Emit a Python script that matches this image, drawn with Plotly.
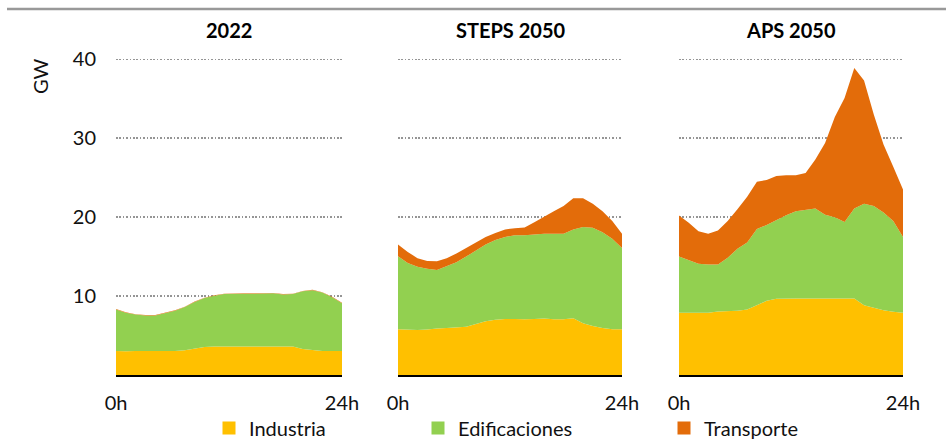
import plotly.graph_objects as go

# ---------------- data ----------------
hours = list(range(24))
x_tick_vals = [0, 23]
x_tick_text = ["0h", "24h"]
y_tick_vals = [10, 20, 30, 40]
y_tick_text = ["10", "20", "30", "40"]

panel_titles = ["2022", "STEPS 2050", "APS 2050"]
series_names = ["Industria", "Edificaciones", "Transporte"]

industria_2022 = [3.05, 3.0, 3.05, 3.05, 3.05, 3.05, 3.05, 3.15, 3.35, 3.55, 3.6, 3.6,
                  3.6, 3.6, 3.6, 3.6, 3.6, 3.6, 3.6, 3.3, 3.15, 3.05, 3.05, 3.05]
edificaciones_2022 = [5.25, 4.9, 4.6, 4.5, 4.5, 4.8, 5.1, 5.45, 5.9, 6.2, 6.45, 6.65,
                      6.7, 6.7, 6.7, 6.75, 6.75, 6.6, 6.65, 7.3, 7.6, 7.4, 6.8, 6.05]
transporte_2022 = [0.05, 0.05, 0.05, 0.05, 0.05, 0.05, 0.05, 0.05, 0.05, 0.05, 0.05, 0.05,
                   0.05, 0.05, 0.05, 0.05, 0.05, 0.05, 0.05, 0.05, 0.05, 0.05, 0.05, 0.05]

industria_steps = [5.8, 5.75, 5.7, 5.75, 5.9, 5.95, 6.0, 6.1, 6.45, 6.8, 7.0, 7.1,
                   7.1, 7.05, 7.1, 7.15, 7.05, 7.05, 7.2, 6.55, 6.2, 5.95, 5.8, 5.8]
edificaciones_steps = [9.25, 8.45, 8.0, 7.7, 7.4, 7.85, 8.3, 8.9, 9.35, 9.75, 10.1, 10.4,
                       10.6, 10.65, 10.7, 10.75, 10.85, 10.85, 11.25, 12.2, 12.45, 12.15, 11.45, 10.3]
transporte_steps = [1.5, 1.4, 1.1, 1.0, 1.1, 1.0, 1.1, 1.1, 1.05, 0.95, 0.9, 0.95,
                    0.9, 1.0, 1.55, 2.2, 2.85, 3.5, 3.95, 3.65, 3.05, 2.65, 2.25, 1.8]

industria_aps = [7.9, 7.9, 7.9, 7.9, 8.05, 8.1, 8.15, 8.3, 8.85, 9.4, 9.65, 9.7,
                 9.7, 9.7, 9.7, 9.7, 9.7, 9.7, 9.7, 8.85, 8.5, 8.2, 8.0, 7.9]
edificaciones_aps = [7.1, 6.65, 6.2, 6.1, 5.95, 6.75, 7.85, 8.5, 9.65, 9.6, 10.0, 10.55,
                     11.05, 11.25, 11.4, 10.6, 10.3, 9.7, 11.4, 12.85, 12.9, 12.4, 11.5, 9.6]
transporte_aps = [5.2, 4.75, 4.1, 3.9, 4.3, 4.65, 5.0, 5.8, 6.0, 5.7, 5.55, 5.05,
                  4.55, 4.65, 6.2, 9.1, 12.7, 15.7, 17.8, 15.6, 11.6, 8.6, 6.9, 6.0]

panels = [
    [industria_2022, edificaciones_2022, transporte_2022],
    [industria_steps, edificaciones_steps, transporte_steps],
    [industria_aps, edificaciones_aps, transporte_aps],
]

# ---------------- style ----------------
colors = ["#FFC000", "#92D050", "#E36C0A"]
FONT = "Lato"
W, H = 946, 439
FS = 20

x_domains_px = [(116, 342), (398, 622), (679, 903)]
y_top_px, y_bot_px = 55, 375
y_max = 40 * (y_bot_px - y_top_px) / (y_bot_px - 59.3)

fig = go.Figure()

for p, values in enumerate(panels):
    ax = "" if p == 0 else str(p + 1)
    for s, vals in enumerate(values):
        fig.add_trace(go.Scatter(
            x=hours, y=vals, mode="lines", stackgroup="g%d" % p,
            line=dict(width=0, color=colors[s]), fillcolor=colors[s],
            xaxis="x" + ax, yaxis="y" + ax, showlegend=False,
            hoverinfo="skip",
        ))

# legend entries (square markers), each in its own legend
for s, name in enumerate(series_names):
    fig.add_trace(go.Scatter(
        x=[None], y=[None], mode="markers", name=name,
        marker=dict(symbol="square", size=13, color=colors[s]),
        legend="legend" if s == 0 else "legend%d" % (s + 1),
        showlegend=True,
    ))

layout = dict(
    width=W, height=H,
    margin=dict(l=0, r=0, t=0, b=0, pad=0, autoexpand=False),
    paper_bgcolor="white", plot_bgcolor="white",
    font=dict(family=FONT, size=FS, color="#111111"),
    annotations=[],
    shapes=[],
)

for p in range(3):
    ax = "" if p == 0 else str(p + 1)
    x0, x1 = x_domains_px[p]
    layout["xaxis" + ax] = dict(
        domain=[x0 / W, x1 / W], range=[0, 23], anchor="y" + ax,
        tickvals=x_tick_vals, ticktext=x_tick_text, ticks="",
        showgrid=False, zeroline=False, showline=True, linecolor="#000000", linewidth=1.5,
        ticklabelstandoff=9, tickfont=dict(size=FS, family=FONT, color="#111111"),
        fixedrange=True,
    )
    layout["yaxis" + ax] = dict(
        domain=[1 - y_bot_px / H, 1 - y_top_px / H], range=[0, y_max], anchor="x" + ax,
        tickvals=y_tick_vals, ticktext=y_tick_text, showticklabels=(p == 0), ticks="",
        showgrid=True, gridcolor="#959595", gridwidth=1.6, griddash="1.6px,1.8px",
        zeroline=False, showline=False,
        ticklabelstandoff=19, tickfont=dict(size=FS, family=FONT, color="#111111"),
        fixedrange=True,
    )
    layout["annotations"].append(dict(
        text="<b>%s</b>" % panel_titles[p], x=(x0 + x1) / 2 / W, y=1 - 30 / H,
        xref="paper", yref="paper", xanchor="center", yanchor="middle",
        showarrow=False, font=dict(size=FS, family=FONT, color="#000000"),
    ))

layout["annotations"].append(dict(
    text="GW", x=40 / W, y=1 - 76 / H, xref="paper", yref="paper",
    xanchor="center", yanchor="middle", textangle=-90, showarrow=False,
    font=dict(size=FS, family=FONT, color="#111111"),
))

layout["shapes"].append(dict(
    type="line", xref="paper", yref="paper", x0=7 / W, x1=1, y0=1 - 9 / H, y1=1 - 9 / H,
    line=dict(color="#999999", width=2.5),
))

legend_x_px = [209, 418, 664]
for s in range(3):
    key = "legend" if s == 0 else "legend%d" % (s + 1)
    layout[key] = dict(
        x=legend_x_px[s] / W, y=11 / H, xref="paper", yref="paper",
        xanchor="left", yanchor="middle", orientation="h",
        bgcolor="rgba(0,0,0,0)", borderwidth=0,
        font=dict(size=FS, family=FONT, color="#111111"),
    )

fig.update_layout(**layout)
fig.write_html(
    "out.html",
    config={"displayModeBar": False, "staticPlot": True},
    post_script="document.body.style.margin='0';document.body.style.padding='0';",
)
